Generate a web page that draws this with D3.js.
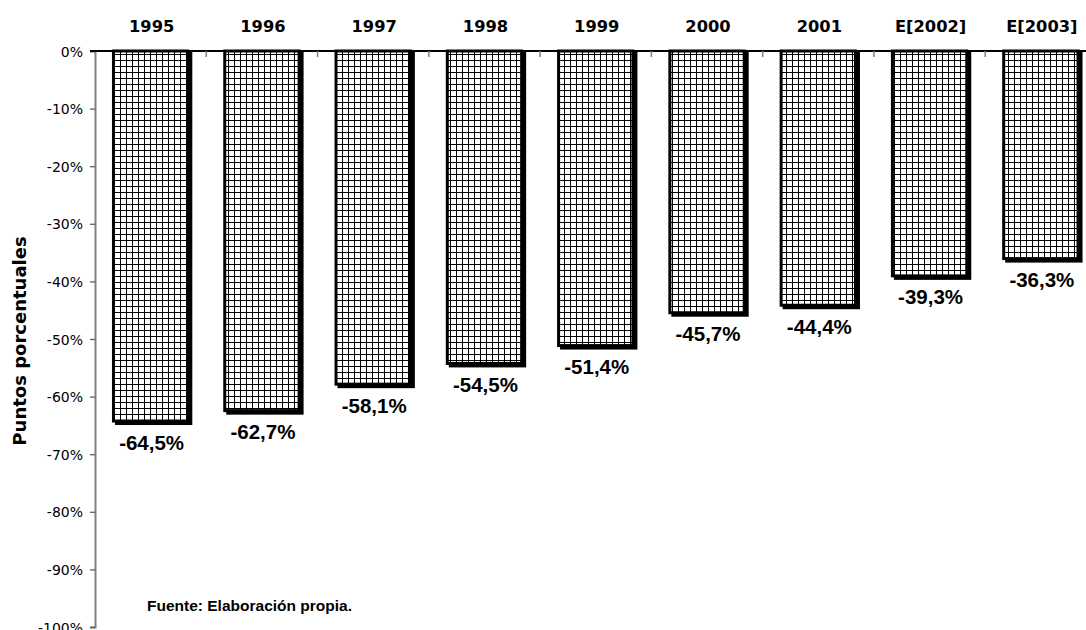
<!DOCTYPE html>
<html><head><meta charset="utf-8">
<script src="https://cdn.jsdelivr.net/npm/d3@7"></script>
<style>body{margin:0;background:#fff;overflow:hidden}</style>
</head><body>
<svg id="c" width="1086" height="630"></svg>
<script>
const categories = ["1995","1996","1997","1998","1999","2000","2001","E[2002]","E[2003]"];
const values = [-64.5,-62.7,-58.1,-54.5,-51.4,-45.7,-44.4,-39.3,-36.3];
const yTicks = [0,-10,-20,-30,-40,-50,-60,-70,-80,-90,-100];

const svg = d3.select("#c");
const m = {left:95, right:1096.5, top:51, bottom:627};
const x = d3.scaleBand().domain(categories).range([m.left, m.right]).paddingInner(0.305).paddingOuter(0.1525);
const y = d3.scaleLinear().domain([0,-100]).range([m.top, m.bottom]);

const defs = svg.append("defs");
const pat = defs.append("pattern").attr("id","grid").attr("patternUnits","userSpaceOnUse")
  .attr("width",6).attr("height",6);
pat.append("rect").attr("width",6).attr("height",6).attr("fill","#fff");
pat.append("path").attr("d","M0,0.5H6M0.5,0V6").attr("stroke","#000").attr("stroke-width",1);

// bars
const g = svg.append("g");
values.forEach((v,i)=>{
  const x0 = x(categories[i]), w = x.bandwidth();
  const y0 = y(0), y1 = y(v);
  g.append("rect").attr("x",x0+3).attr("y",y0).attr("width",w).attr("height",y1-y0+2.5).attr("fill","#000");
  g.append("rect").attr("x",x0+1.5).attr("y",y0).attr("width",w-3).attr("height",y1-y0-1.5)
    .attr("fill","url(#grid)").attr("stroke","#000").attr("stroke-width",3);
  svg.append("text").attr("x",x0+w/2+1).attr("y",y1+27).attr("text-anchor","middle")
    .attr("font-family","Liberation Sans, Arial, sans-serif").attr("font-weight","bold").attr("font-size",20.5)
    .text(v.toFixed(1).replace(".",",")+"%");
});

// y axis
const yAxis = svg.append("g").attr("transform",`translate(${m.left},0)`)
  .call(d3.axisLeft(y).tickValues(yTicks).tickSize(5).tickFormat(d=>d+"%"));
yAxis.select(".domain").attr("stroke","#808080").attr("stroke-width",2);
yAxis.selectAll(".tick line").attr("stroke","#606060").attr("stroke-width",1.3);
yAxis.selectAll("text").attr("font-family","DejaVu Sans, Verdana, sans-serif").attr("font-size",14)
  .attr("fill","#000").attr("x",-12).attr("dy","0.36em");

// x axis at top
const xg = svg.append("g").attr("transform",`translate(0,${m.top})`);
xg.append("line").attr("x1",m.left-5).attr("x2",1086).attr("y1",0).attr("y2",0).attr("stroke","#000").attr("stroke-width",2);
categories.forEach((c,i)=>{
  const bx = x(c) + x.bandwidth() + x.step()*x.paddingInner()/2;
  if(i < categories.length-1) xg.append("line").attr("x1",bx).attr("x2",bx).attr("y1",0).attr("y2",6).attr("stroke","#808080").attr("stroke-width",1.5);
  svg.append("text").attr("x",x(c)+x.bandwidth()/2+1).attr("y",32).attr("text-anchor","middle")
    .attr("font-family","DejaVu Sans, Verdana, sans-serif").attr("font-weight","bold").attr("font-size",16.3)
    .text(c);
});

svg.append("text").attr("transform",`translate(26,${(m.top+m.bottom)/2+2}) rotate(-90)`).attr("text-anchor","middle")
  .attr("font-family","DejaVu Sans, Verdana, sans-serif").attr("font-weight","bold").attr("font-size",18)
  .text("Puntos porcentuales");

svg.append("text").attr("x",147).attr("y",611)
  .attr("font-family","Liberation Sans, Arial, sans-serif").attr("font-weight","bold").attr("font-size",15.5)
  .text("Fuente: Elaboración propia.");
</script>
</body></html>
